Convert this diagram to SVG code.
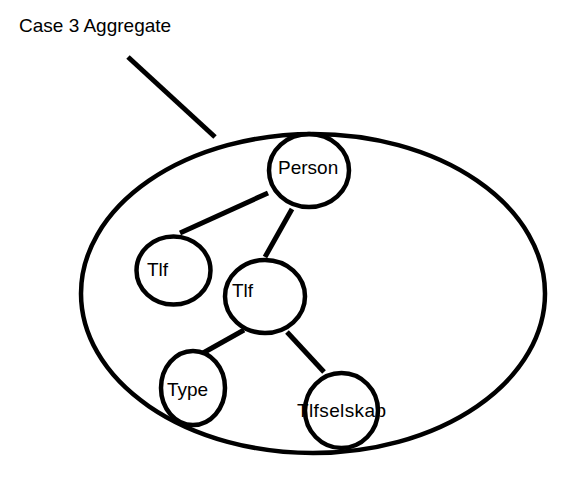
<svg xmlns="http://www.w3.org/2000/svg" width="574" height="484" viewBox="0 0 574 484">
<style>
.n{fill:none;stroke:#000;stroke-width:4.5}
.l{stroke:#000;stroke-width:5;fill:none}
text{font-family:"Liberation Sans",Arial,sans-serif;font-size:19px;fill:#000}
</style>
<rect width="574" height="484" fill="#fff"/>
<text x="19" y="32">Case 3 Aggregate</text>
<g id="aggregate"><ellipse class="n" cx="313" cy="293.5" rx="232" ry="159.5"/></g>
<g id="connectors">
<line class="l" x1="128" y1="57" x2="215" y2="137"/>
<line class="l" x1="268" y1="193" x2="180" y2="233"/>
<line class="l" x1="292" y1="209" x2="265" y2="257"/>
<line class="l" x1="244" y1="330" x2="203" y2="353"/>
<line class="l" x1="287" y1="332" x2="324" y2="372"/>
</g>
<g id="person"><text x="278" y="174">Person</text><ellipse class="n" cx="309" cy="170.5" rx="40" ry="36.5"/></g>
<g id="tlf1"><text x="147" y="276">Tlf</text><ellipse class="n" cx="173.5" cy="270.5" rx="37" ry="34"/></g>
<g id="tlf2"><text x="232" y="297">Tlf</text><ellipse class="n" cx="265" cy="296.5" rx="40" ry="36.5"/></g>
<g id="type"><text x="167" y="396">Type</text><ellipse class="n" cx="193" cy="388" rx="32" ry="37"/></g>
<g id="tlfselskab"><text x="297" y="417" textLength="89">Tlfselskab</text><ellipse class="n" cx="341.5" cy="410.5" rx="36.5" ry="37.5"/></g>
</svg>
